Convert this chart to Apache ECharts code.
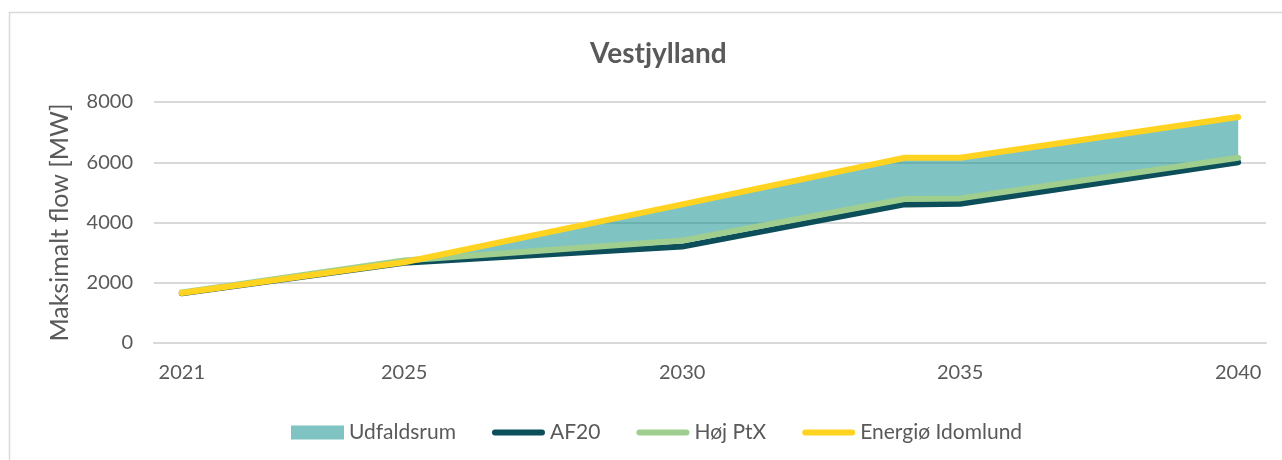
<!DOCTYPE html>
<html>
<head>
<meta charset="utf-8">
<script src="https://cdn.jsdelivr.net/npm/echarts@6/dist/echarts.min.js"></script>
<style>
  body { margin: 0; background: #fff; }
  #chart { width: 1282px; height: 460px; }
</style>
</head>
<body>
<div id="chart"></div>
<script>
// data
const years = [2021, 2025, 2030, 2034, 2035, 2040];
const tickYears = [2021, 2025, 2030, 2035, 2040];
const af20 = [1650, 2660, 3200, 4600, 4620, 6000];
const hojPtx = [1680, 2740, 3400, 4780, 4800, 6150];
const energio = [1660, 2680, 4600, 6150, 6150, 7500];

const pairs = arr => years.map((y, i) => [y, arr[i]]);

const font = 'Lato';
const grey = '#595959';
const lineIcon = 'path://M3,0L50,0A3,3 0 0 1 50,6L3,6A3,3 0 0 1 3,0Z';

// Udfaldsrum: band between Høj PtX and Energiø, one polygon
function renderBand(params, api) {
  if (params.dataIndex !== 0) return null;
  const top = years.map((y, i) => api.coord([y, Math.max(energio[i], hojPtx[i])]));
  const bottom = years.map((y, i) => api.coord([y, hojPtx[i]])).reverse();
  return {
    type: 'polygon',
    shape: { points: top.concat(bottom) },
    style: { fill: '#008a86', opacity: 0.5 }
  };
}

let myChart = echarts.init(document.getElementById('chart'));
myChart.setOption({
  animation: false,
  textStyle: { fontFamily: font },
  title: {
    text: 'Vestjylland',
    left: 585,
    top: 35,
    textStyle: { fontFamily: font, fontSize: 28, fontWeight: 'bold', color: grey }
  },
  graphic: [{
    type: 'rect',
    shape: { x: 9.5, y: 12.5, width: 1400, height: 600 },
    style: { fill: 'none', stroke: '#d9d9d9', lineWidth: 1.5 },
    silent: true,
    z: -10
  }],
  legend: {
    left: 286,
    top: 417,
    itemWidth: 53,
    itemHeight: 14,
    itemGap: 36,
    textStyle: { fontFamily: font, fontSize: 21, color: grey },
    data: [
      { name: 'Udfaldsrum', icon: 'rect', itemStyle: { color: '#7fc4c2', opacity: 1 } },
      { name: 'AF20', icon: lineIcon, itemStyle: { color: '#0c4e5a' } },
      { name: 'Høj PtX', icon: lineIcon, itemStyle: { color: '#9fce8f' } },
      { name: 'Energiø Idomlund', icon: lineIcon, itemStyle: { color: '#ffd320' } }
    ]
  },
  grid: { left: 154, right: 16, top: 102, bottom: 117 },
  xAxis: {
    type: 'value',
    min: 2020.5,
    max: 2040.5,
    axisLine: { show: true, lineStyle: { color: '#d9d9d9', width: 2 } },
    axisTick: { show: false },
    splitLine: { show: false },
    axisLabel: {
      customValues: tickYears,
      formatter: v => String(v),
      fontFamily: font,
      fontSize: 20,
      color: grey,
      margin: 20
    }
  },
  yAxis: {
    type: 'value',
    min: 0,
    max: 8000,
    interval: 2000,
    name: 'Maksimalt flow [MW]',
    nameLocation: 'middle',
    nameGap: 82,
    nameTextStyle: { fontFamily: font, fontSize: 25, color: grey },
    axisLine: { show: false },
    axisTick: { show: false },
    axisLabel: { fontFamily: font, fontSize: 20, color: grey, margin: 21, formatter: v => String(v) },
    splitLine: { lineStyle: { color: '#d9d9d9', width: 2 } }
  },
  series: [
    {
      name: 'Udfaldsrum',
      type: 'custom',
      renderItem: renderBand,
      data: years.map((y, i) => [y, hojPtx[i], energio[i]]),
      encode: { x: 0, y: [1, 2] },
      itemStyle: { color: '#7fc4c2' },
      silent: true
    },
    {
      name: 'AF20',
      type: 'line',
      data: pairs(af20),
      symbol: 'none',
      itemStyle: { color: '#0c4e5a' },
      lineStyle: { color: '#0c4e5a', width: 6, cap: 'round', join: 'round' }
    },
    {
      name: 'Høj PtX',
      type: 'line',
      data: pairs(hojPtx),
      symbol: 'none',
      itemStyle: { color: '#9fce8f' },
      lineStyle: { color: '#9fce8f', width: 6, cap: 'round', join: 'round' }
    },
    {
      name: 'Energiø Idomlund',
      type: 'line',
      data: pairs(energio),
      symbol: 'none',
      itemStyle: { color: '#ffd320' },
      lineStyle: { color: '#ffd320', width: 6, cap: 'round', join: 'round' }
    }
  ]
});
</script>
</body>
</html>
